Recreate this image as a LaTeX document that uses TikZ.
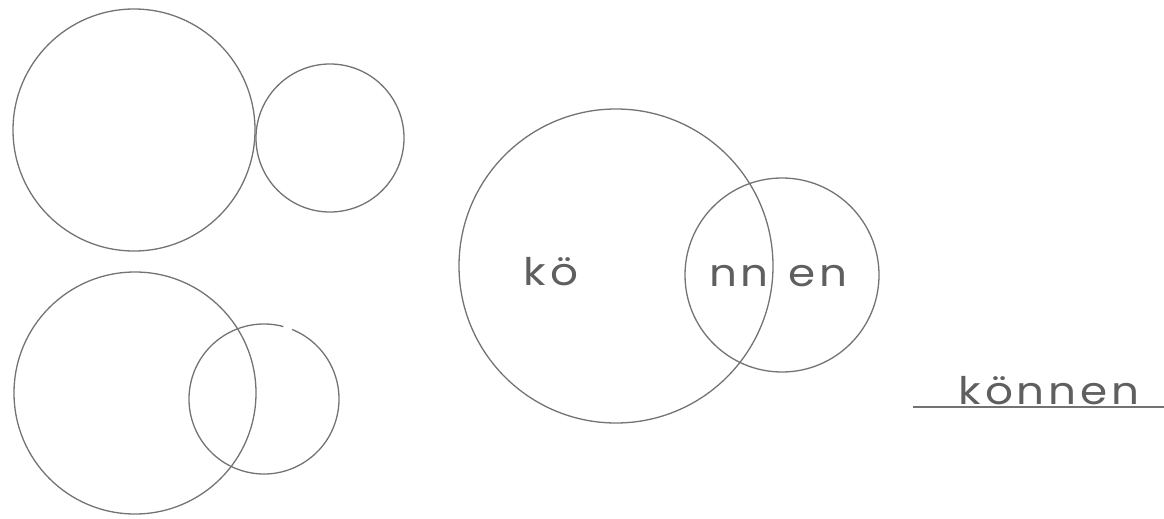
\documentclass[tikz,border=0pt]{standalone}
\usepackage{fontspec}
\setmainfont{Poppins}
\newfontfamily\handfont[FakeStretch=1.15,LetterSpace=10]{Poppins}
\begin{document}
\begin{tikzpicture}[x=1pt,y=-1pt,
  ring/.style={circle,draw=linegray,line width=1.3pt,inner sep=0pt},
  word/.style={text=textgray,font=\handfont\fontsize{38}{38}\selectfont,inner sep=0pt,anchor=base}]
\definecolor{linegray}{RGB}{115,115,115}
\definecolor{textgray}{RGB}{95,95,95}
\useasboundingbox (0,0) rectangle (1164,519);
% top-left pair (touching)
\node[ring,minimum size=242pt] (A) at (134,130) {};
\node[ring,minimum size=148pt] (B) at (330,138) {};
% bottom-left pair (overlapping)
\node[ring,minimum size=242pt] (C) at (135,393) {};
\coordinate (D) at (264,399);
\draw[linegray,line width=1.3pt] ([shift={(75:75pt)}]D) arc[start angle=75,end angle=428,radius=75pt];
% middle pair
\node[ring,minimum size=314pt] (E) at (616,266) {};
\node[ring,minimum size=194pt] (F) at (782,275) {};
% labels
\node[word] (t1) at (551,285) {kö};
\node[word] (t2) at (739,286) {nn};
\node[word] (t3) at (818,286) {en};
\node[word] (t4) at (1049,404) {können};
\coordinate (u1) at (913,407);
\coordinate (u2) at (1164,407);
\draw[linegray,line width=1.2pt] (u1) -- (u2);
\end{tikzpicture}
\end{document}
